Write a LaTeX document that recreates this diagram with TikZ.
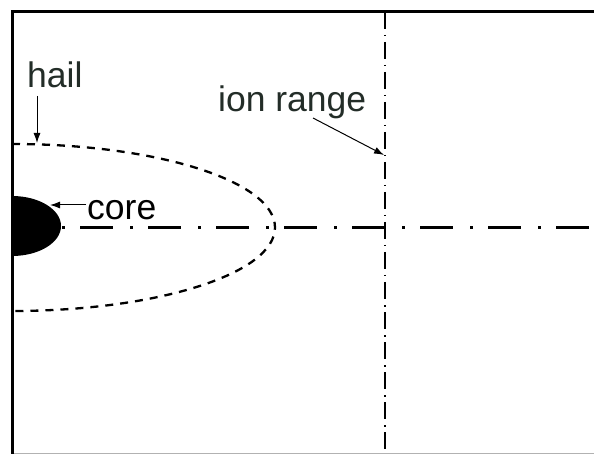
\documentclass[tikz,border=0pt]{standalone}
\usepackage{fontspec}
\setmainfont{Liberation Sans}
\usetikzlibrary{arrows.meta}
\definecolor{labelcol}{RGB}{35,45,40}
\begin{document}
\begin{tikzpicture}[x=1pt,y=-1pt,
  lbl/.style={inner sep=0pt,anchor=base west,font=\fontsize{35.5}{42}\selectfont,text=labelcol},
  pointer/.style={line width=1pt,-{Latex[length=10pt,width=7pt]}},
  frameline/.style={line width=3pt},
  axisline/.style={line width=3pt,dash pattern=on 3pt off 15pt on 33pt off 17pt},
  rangeline/.style={line width=1.4pt,dash pattern=on 17pt off 6pt on 1.5pt off 5.5pt},
  hailline/.style={line width=2.3pt,dash pattern=on 8pt off 7pt}]
\useasboundingbox (0,0) rectangle (594,454);
\fill[white] (0,0) rectangle (594,454);
% light outer edges
\draw[line width=1pt,black!30] (12,453) -- (594,453);
% hail boundary (half ellipse)
\draw[hailline] (12,144) arc[start angle=-90,end angle=90,x radius=263,y radius=83.5];
% core
\fill[black] (12,196) arc[start angle=-90,end angle=90,x radius=49,y radius=30];
% axis
\coordinate (axs) at (62,228);
\coordinate (axe) at (594,228);
\draw[axisline] (axs) -- (axe);
% ion range line
\coordinate (rt) at (385,12);
\coordinate (rb) at (385,454);
\draw[rangeline] (rt) -- (rb);
% frame
\coordinate (ftl) at (12,12);
\coordinate (ftr) at (594,12);
\coordinate (fbl) at (12,454);
\draw[frameline] (ftr) -- (ftl) -- (fbl);
% labels
\node[lbl] (hail) at (27,88) {hail};
\node[lbl] (ion) at (218,112) {ion range};
\node[lbl,text=black] (core) at (87,220) {core};
% pointer targets
\coordinate (hailpt) at (37,143);
\coordinate (ionpt) at (384,155);
\coordinate (corept) at (50,205);
\coordinate (hailst) at (37,96);
\coordinate (ionst) at (313,118);
\coordinate (corest) at (86,205);
\draw[pointer] (hailst) -- (hailpt);
\draw[pointer] (ionst) -- (ionpt);
\draw[pointer] (corest) -- (corept);
\end{tikzpicture}
\end{document}
